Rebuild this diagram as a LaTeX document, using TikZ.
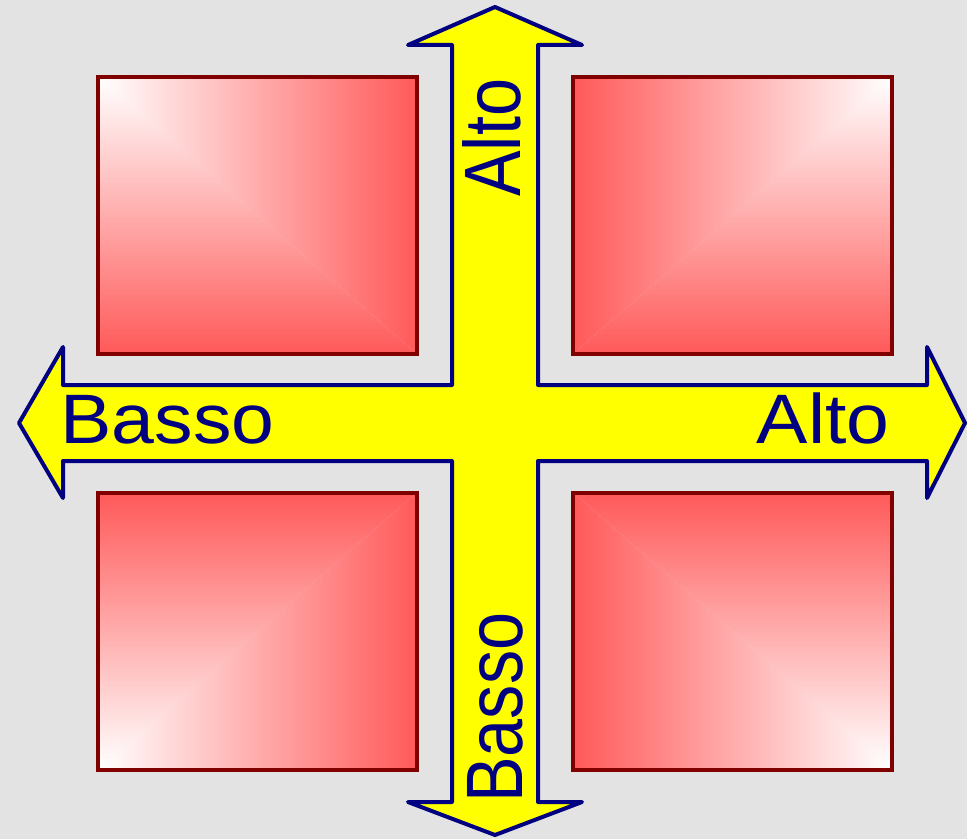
\documentclass[tikz,border=0pt]{standalone}
\usepackage{fontspec}
\setmainfont{Liberation Sans}
\usepackage{tikz}
\usetikzlibrary{positioning}
\definecolor{bggray}{RGB}{227,227,227}
\definecolor{crossblue}{RGB}{0,0,128}
\definecolor{crossyel}{RGB}{255,255,0}
\definecolor{tilered}{RGB}{255,89,89}
\definecolor{tileedge}{RGB}{128,0,0}

\begin{document}
\begin{tikzpicture}[x=0.5pt,y=-0.5pt,
  tile/.style={draw=tileedge,line width=2pt,inner sep=0pt,
    minimum width=159.5pt,minimum height=138.5pt},
  glow nw/.style={tile,path picture={
    \shade[left color=white,right color=tilered]
      (path picture bounding box.north west) -- (path picture bounding box.north east)
      -- (path picture bounding box.south east) -- cycle;
    \shade[top color=white,bottom color=tilered]
      (path picture bounding box.north west) -- (path picture bounding box.south west)
      -- (path picture bounding box.south east) -- cycle;}},
  glow ne/.style={tile,path picture={
    \shade[left color=tilered,right color=white]
      (path picture bounding box.north west) -- (path picture bounding box.north east)
      -- (path picture bounding box.south west) -- cycle;
    \shade[top color=white,bottom color=tilered]
      (path picture bounding box.north east) -- (path picture bounding box.south east)
      -- (path picture bounding box.south west) -- cycle;}},
  glow sw/.style={tile,path picture={
    \shade[left color=white,right color=tilered]
      (path picture bounding box.south west) -- (path picture bounding box.south east)
      -- (path picture bounding box.north east) -- cycle;
    \shade[top color=tilered,bottom color=white]
      (path picture bounding box.south west) -- (path picture bounding box.north west)
      -- (path picture bounding box.north east) -- cycle;}},
  glow se/.style={tile,path picture={
    \shade[left color=tilered,right color=white]
      (path picture bounding box.south east) -- (path picture bounding box.south west)
      -- (path picture bounding box.north west) -- cycle;
    \shade[top color=tilered,bottom color=white]
      (path picture bounding box.south east) -- (path picture bounding box.north east)
      -- (path picture bounding box.north west) -- cycle;}},
  lbl/.style={text=crossblue,inner sep=0pt},
  flat/.style={lbl,font=\fontsize{35}{42}\selectfont,xscale=1.1},
  tall/.style={lbl,font=\fontsize{40}{48}\selectfont,rotate=90,xscale=0.855}]
% background and frame
\fill[bggray] (0,0) rectangle (967,839);
\useasboundingbox (0,0) rectangle (967,839);
% the four tiles
\node[glow nw] (tl) at (257.5,215.5) {};
\node[glow ne] (tr) at (732.5,215.5) {};
\node[glow sw] (bl) at (257.5,631) {};
\node[glow se] (br) at (732.5,631) {};
% the cross of arrows
\draw[crossblue,line width=2pt,line join=round,fill=crossyel]
  (495,7) -- (582,45) -- (538,45) -- (538,385) -- (927,385) -- (927,347)
  -- (965,423) -- (927,498) -- (927,461) -- (538,461) -- (538,802)
  -- (582,802) -- (495,835) -- (408,802) -- (452,802) -- (452,461)
  -- (63,461) -- (63,498) -- (19,423) -- (63,347) -- (63,385)
  -- (452,385) -- (452,45) -- (408,45) -- cycle;
% labels
\node[flat,anchor=base west] (lblw) at (60,443) {Basso};
\node[flat,anchor=base east] (lble) at (890,443) {Alto};
\node[tall,anchor=base west] (lbln) at (520,197) {Alto};
\node[tall,anchor=base west] (lbls) at (522,803) {Basso};
\end{tikzpicture}
\end{document}
